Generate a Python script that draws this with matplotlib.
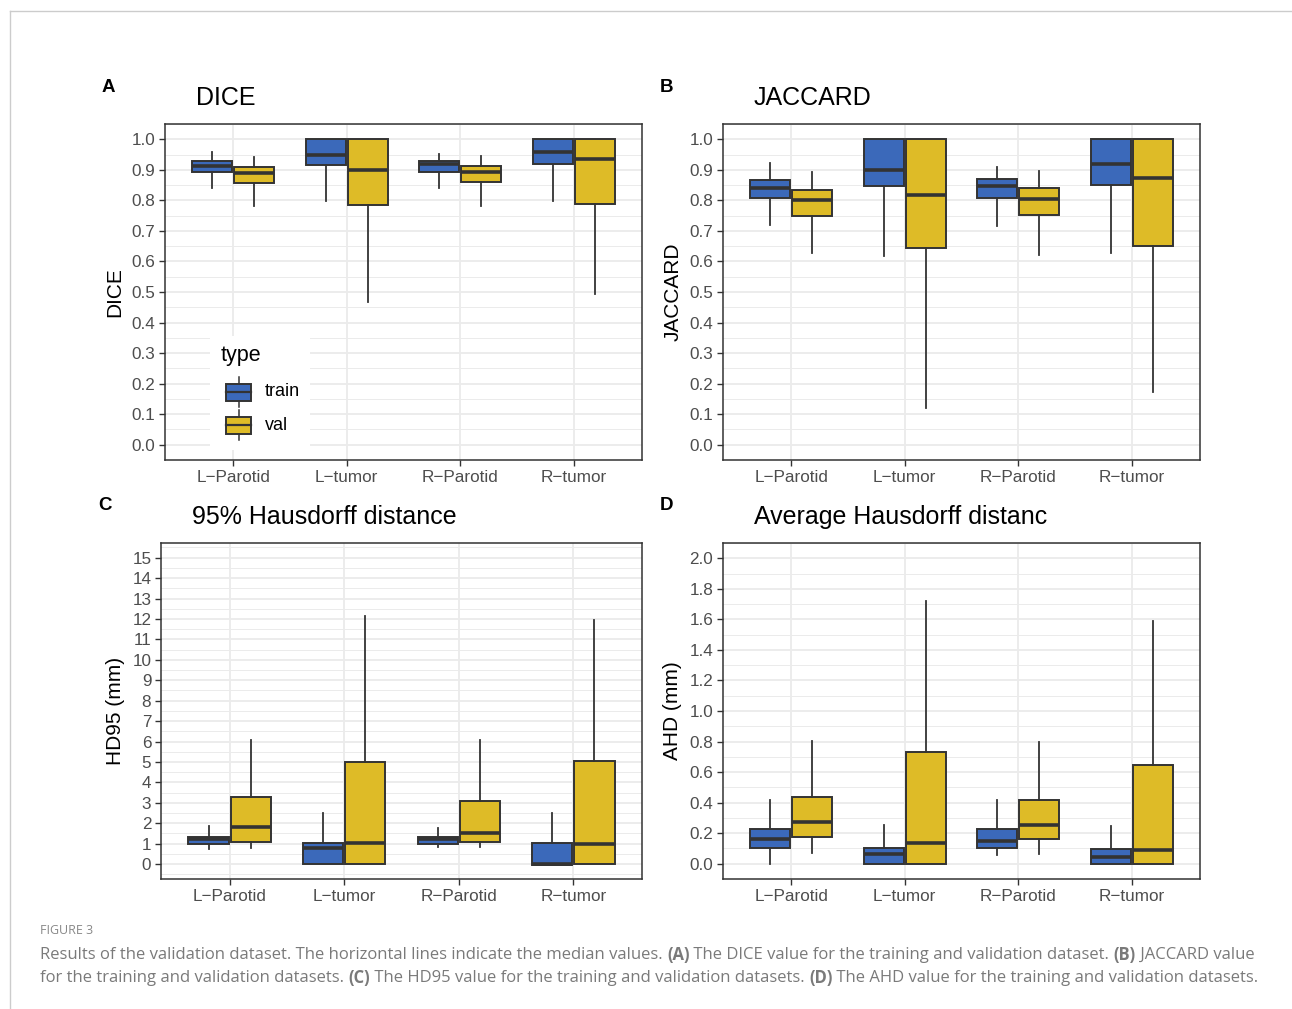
import numpy as np
import matplotlib
matplotlib.use("Agg")
import matplotlib.pyplot as plt
from matplotlib.lines import Line2D
from matplotlib.patches import Rectangle

plt.rcParams["font.family"] = ["Liberation Sans", "DejaVu Sans"]

categories = ["L\u2212Parotid", "L\u2212tumor", "R\u2212Parotid", "R\u2212tumor"]
groups = ["train", "val"]

# five-number summaries per category: (whisker low, q1, median, q3, whisker high)
dice_train = [(0.839, 0.893, 0.912, 0.929, 0.959), (0.798, 0.917, 0.949, 1.0, 1.0),
              (0.839, 0.893, 0.920, 0.930, 0.952), (0.798, 0.918, 0.957, 1.0, 1.0)]
dice_val = [(0.782, 0.857, 0.890, 0.909, 0.943), (0.467, 0.785, 0.900, 1.0, 1.0),
            (0.782, 0.860, 0.893, 0.914, 0.945), (0.493, 0.787, 0.934, 1.0, 1.0)]

jac_train = [(0.720, 0.808, 0.842, 0.868, 0.922), (0.619, 0.848, 0.899, 1.0, 1.0),
             (0.716, 0.808, 0.848, 0.870, 0.910), (0.628, 0.850, 0.918, 1.0, 1.0)]
jac_val = [(0.629, 0.749, 0.800, 0.834, 0.894), (0.120, 0.645, 0.819, 1.0, 1.0),
           (0.622, 0.753, 0.805, 0.841, 0.896), (0.171, 0.649, 0.874, 1.0, 1.0)]

hd95_train = [(0.73, 0.99, 1.22, 1.35, 1.87), (0.0, 0.0, 0.78, 1.01, 2.52),
              (0.83, 0.99, 1.22, 1.34, 1.79), (-0.03, -0.03, 0.0, 1.01, 2.52)]
hd95_val = [(0.81, 1.06, 1.84, 3.29, 6.07), (0.0, 0.0, 1.03, 5.02, 12.13),
            (0.83, 1.06, 1.51, 3.09, 6.07), (0.0, 0.0, 0.98, 5.07, 11.97)]

ahd_train = [(0.0, 0.106, 0.159, 0.230, 0.419), (0.0, 0.0, 0.063, 0.104, 0.256),
             (0.054, 0.106, 0.152, 0.230, 0.419), (0.0, 0.0, 0.046, 0.098, 0.245)]
ahd_val = [(0.072, 0.174, 0.274, 0.436, 0.803), (0.0, 0.0, 0.137, 0.732, 1.72),
           (0.065, 0.163, 0.256, 0.419, 0.797), (0.0, 0.0, 0.089, 0.647, 1.59)]

colors = {"train": "#3B69BA", "val": "#DEBB27"}
edge = "#333333"

W, H = 1292, 1009
fig = plt.figure(figsize=(W / 100, H / 100), dpi=100)


def px_axes(l, t, r, b):
    return fig.add_axes([l / W, 1 - b / H, (r - l) / W, (b - t) / H])


def fig_text(x, y, s, **kw):
    return fig.text(x / W, 1 - y / H, s, **kw)


panels = [
    dict(box=(165, 124, 642, 460), letter="A", title="DICE", ylabel="DICE",
         data=(dice_train, dice_val), ylim=(-0.034, 1.048),
         major=np.arange(0, 1.01, 0.1), minor=np.arange(-0.05, 1.06, 0.1), fmt="{:.1f}"),
    dict(box=(723, 124, 1200, 460), letter="B", title="JACCARD", ylabel="JACCARD",
         data=(jac_train, jac_val), ylim=(-0.043, 1.049),
         major=np.arange(0, 1.01, 0.1), minor=np.arange(-0.05, 1.06, 0.1), fmt="{:.1f}"),
    dict(box=(161, 543, 642, 879), letter="C", title="95% Hausdorff distance", ylabel="HD95 (mm)",
         data=(hd95_train, hd95_val), ylim=(-0.73, 15.72),
         major=np.arange(0, 15.5, 1), minor=np.arange(-0.5, 16, 1), fmt="{:.0f}"),
    dict(box=(723, 543, 1200, 879), letter="D", title="Average Hausdorff distanc", ylabel="AHD (mm)",
         data=(ahd_train, ahd_val), ylim=(-0.098, 2.096),
         major=np.arange(0, 2.01, 0.2), minor=np.arange(-0.1, 2.2, 0.2), fmt="{:.1f}"),
]

x = np.arange(1, len(categories) + 1)
offsets = [-0.185, 0.185]

for p in panels:
    l, t, r, b = p["box"]
    ax = px_axes(l, t, r, b)
    ax.set_facecolor("white")
    ax.set_axisbelow(True)

    for gi, series in enumerate(p["data"]):
        stats = [dict(whislo=v[0], q1=v[1], med=v[2], q3=v[3], whishi=v[4]) for v in series]
        ax.bxp(stats, positions=x + offsets[gi], widths=0.35, patch_artist=True,
               showfliers=False, showcaps=False, manage_ticks=False,
               boxprops=dict(facecolor=colors[groups[gi]], edgecolor=edge, linewidth=1.4),
               medianprops=dict(color=edge, linewidth=2.6, solid_capstyle="butt"),
               whiskerprops=dict(color=edge, linewidth=1.3))

    ax.set_xlim(0.4, 4.6)
    ax.set_ylim(*p["ylim"])
    ax.set_yticks(p["major"])
    ax.set_yticklabels([p["fmt"].format(v) for v in p["major"]])
    ax.set_yticks(p["minor"], minor=True)
    ax.set_xticks(x)
    ax.set_xticklabels(categories)
    ax.grid(True, which="major", color="#EBEBEB", lw=1.3)
    ax.grid(True, which="minor", axis="y", color="#EBEBEB", lw=0.7)
    ax.tick_params(which="major", length=4, width=1.0, color=edge, labelcolor="#4D4D4D",
                   labelsize=12.3, pad=3)
    ax.tick_params(which="minor", length=0)
    for s in ax.spines.values():
        s.set_color(edge)
        s.set_linewidth(1.1)

    ax.set_ylabel(p["ylabel"], fontsize=15, labelpad=5)
    fig_text(l + 31, t - 26, p["title"], fontsize=18, ha="left", va="center")
    fig_text(l - 63, t - 37, p["letter"], fontsize=13.5, fontweight="bold", ha="left", va="center")

    if p["letter"] == "A":
        def ax_pt(px, py):
            return ((px - l) / (r - l), (b - py) / (b - t))
        x0, y0 = ax_pt(210, 450)
        x1, y1 = ax_pt(310, 336)
        ax.add_patch(Rectangle((x0, y0), x1 - x0, y1 - y0, transform=ax.transAxes,
                               facecolor="white", edgecolor="none", zorder=5))
        tx, ty = ax_pt(221, 355)
        ax.text(tx, ty, "type", transform=ax.transAxes, fontsize=15.5, va="center", zorder=6)
        for g, cy in [("train", 392), ("val", 425)]:
            bx0, by0 = ax_pt(226, cy + 8.5)
            bx1, by1 = ax_pt(251, cy - 8.5)
            wx, wt = ax_pt(238.5, cy - 15)
            _, wb = ax_pt(238.5, cy + 15)
            ax.add_line(Line2D([wx, wx], [wb, wt], transform=ax.transAxes, color=edge, lw=1.1, zorder=6))
            ax.add_patch(Rectangle((bx0, by0), bx1 - bx0, by1 - by0, transform=ax.transAxes,
                                   facecolor=colors[g], edgecolor=edge, lw=1.4, zorder=7))
            _, my = ax_pt(0, cy)
            ax.add_line(Line2D([bx0, bx1], [my, my], transform=ax.transAxes, color=edge, lw=1.6, zorder=8))
            lx, ly = ax_pt(265, cy)
            ax.text(lx, ly, g, transform=ax.transAxes, fontsize=13, va="center", zorder=8)

# outer frame lines
fig.add_artist(Line2D([10 / W, 1], [1 - 11 / H, 1 - 11 / H], color="#CCCCCC", lw=1))
fig.add_artist(Line2D([10 / W, 10 / W], [1 - 11 / H, 0], color="#CCCCCC", lw=1))

# caption
cap_font = ["Open Sans", "DejaVu Sans"]
cap_color = "#7A7A7A"
fig_text(40, 931, "FIGURE 3", fontsize=9, color="#888888", family=cap_font, va="center")

lines = [
    [("Results of the validation dataset. The horizontal lines indicate the median values. ", False),
     ("(A)", True), (" The DICE value for the training and validation dataset. ", False),
     ("(B)", True), (" JACCARD value", False)],
    [("for the training and validation datasets. ", False), ("(C)", True),
     (" The HD95 value for the training and validation datasets. ", False), ("(D)", True),
     (" The AHD value for the training and validation datasets.", False)],
]
renderer = fig.canvas.get_renderer()
size = 11.2
# measure first line to fit the reference width
probe = []
cx = 40
for seg, bold in lines[0]:
    tt = fig_text(cx, 954, seg, fontsize=size, color=cap_color, family=cap_font,
                  fontweight="bold" if bold else "normal", va="center")
    cx += tt.get_window_extent(renderer).width
    probe.append(tt)
for tt in probe:
    tt.remove()
size = size * (1256 - 40) / (cx - 40)

for line, yy in zip(lines, [955, 978]):
    cx = 40
    for seg, bold in line:
        tt = fig_text(cx, yy, seg, fontsize=size, color=cap_color, family=cap_font,
                      fontweight="bold" if bold else "normal", va="center")
        cx += tt.get_window_extent(renderer).width

fig.savefig("out.png", dpi=100, facecolor="white")
